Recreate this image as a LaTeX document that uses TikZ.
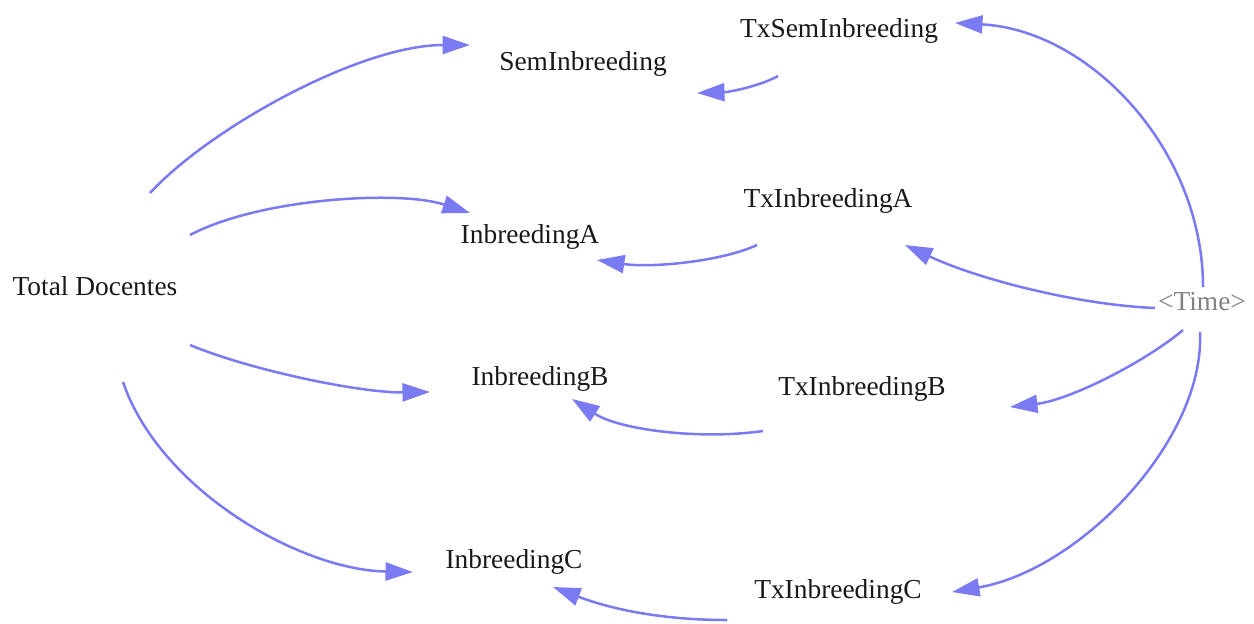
\documentclass[tikz,border=0pt]{standalone}
\usepackage{fontspec}
\setmainfont{Liberation Serif}
\usetikzlibrary{arrows.meta}
\definecolor{linkc}{RGB}{122,122,242}
\definecolor{txtc}{RGB}{25,25,25}
\definecolor{timec}{RGB}{130,130,130}
\tikzset{
  lbl/.style={anchor=base, inner sep=0pt, text=txtc, font=\fontsize{15.6pt}{18pt}\selectfont},
  shadow/.style={lbl, text=timec},
  link/.style={draw=linkc, line width=0.05cm, -{Triangle[length=0.55cm,width=0.36cm]}, fill=none}
}
\begin{document}
\begin{tikzpicture}[x=0.02cm,y=-0.02cm]
\useasboundingbox (0,0) rectangle (1254,623);
\node[lbl] (td) at (95,295) {Total Docentes};
\node[lbl] (sem) at (583,70) {SemInbreeding};
\node[lbl] (txsem) at (839,37) {TxSemInbreeding};
\node[lbl] (a) at (530,243) {InbreedingA};
\node[lbl] (txa) at (828,207) {TxInbreedingA};
\node[lbl] (b) at (540,385) {InbreedingB};
\node[lbl] (txb) at (862,395) {TxInbreedingB};
\node[lbl] (c) at (514,568) {InbreedingC};
\node[lbl] (txc) at (838,598) {TxInbreedingC};
\node[shadow] (time) at (1202,310) {<Time>};
% Total Docentes links
\draw[link] ([shift={(55,-102)}]td.base) .. controls +(60,-65) and +(-110,0) .. ([shift={(-113,-25)}]sem.base);
\draw[link] ([shift={(95,-60)}]td.base) .. controls +(70,-37) and +(-70,-23) .. ([shift={(-60,-30)}]a.base);
\draw[link] ([shift={(95,50)}]td.base) .. controls +(60,25) and +(-70,1) .. ([shift={(-110,7)}]b.base);
\draw[link] ([shift={(28,87)}]td.base) .. controls +(37,108) and +(-113,-2) .. ([shift={(-101,4)}]c.base);
% rate links
\draw[link] ([shift={(-61,39)}]txsem.base) .. controls +(-18,10) and +(33,-1) .. ([shift={(114,23)}]sem.base);
\draw[link] ([shift={(-71,38)}]txa.base) .. controls +(-37,17) and +(53,8) .. ([shift={(67,17)}]a.base);
\draw[link] ([shift={(-99,36)}]txb.base) .. controls +(-63,9) and +(48,31) .. ([shift={(32,14)}]b.base);
\draw[link] ([shift={(-111,22)}]txc.base) .. controls +(-77,0) and +(47,18) .. ([shift={(39,19)}]c.base);
% Time links
\draw[link] ([shift={(1,-23)}]time.base) .. controls +(0,-137) and +(135,7) .. ([shift={(116,-14)}]txsem.base);
\draw[link] ([shift={(-47,-2)}]time.base) .. controls +(-75,-3) and +(75,35) .. ([shift={(77,38)}]txa.base);
\draw[link] ([shift={(-19,20)}]time.base) .. controls +(-38,32) and +(60,-7) .. ([shift={(148,12)}]txb.base);
\draw[link] ([shift={(-2,22)}]time.base) .. controls +(5,108) and +(128,-22) .. ([shift={(114,-6)}]txc.base);
\end{tikzpicture}
\end{document}
